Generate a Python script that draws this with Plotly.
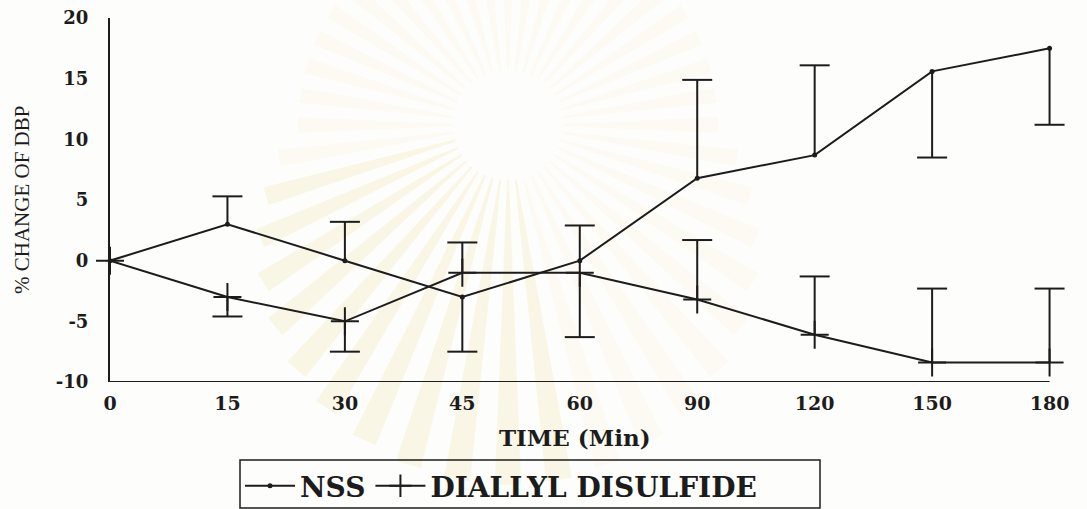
import math
import plotly.graph_objects as go

# Sampling times (min) and group statistics (% change of DBP)
time_labels = ["0", "15", "30", "45", "60", "90", "120", "150", "180"]
nss_mean = [0, 3.0, 0, -3.0, 0, 6.8, 8.7, 15.6, 17.5]
nss_err_up = [0, 2.3, 3.2, 0, 2.9, 8.1, 7.4, 0, 0]
nss_err_down = [0, 0, 0, 4.5, 0, 0, 0, 7.1, 6.3]
dds_mean = [0, -3.0, -5.0, -1.0, -1.0, -3.2, -6.1, -8.4, -8.4]
dds_err_up = [0, 0, 0, 2.5, 0, 4.9, 4.8, 6.1, 6.1]
dds_err_down = [0, 1.6, 2.5, 0, 5.3, 0, 0, 0, 0]
y_ticks = [-10, -5, 0, 5, 10, 15, 20]
y_ticktext = ["-10", "-5", "0", "5", "10", "15", "20"]

INK = "#1c1c1c"
SERIF = "DejaVu Serif"

# figure geometry (px)
W, H = 1087, 509
ML, MR, MT, MB = 110, 21, 18, 127
PW, PH = W - ML - MR, H - MT - MB
X_EXTRA = 0.14  # room to the right of the last time point for its whisker cap

xpos = list(range(len(time_labels)))
x_max = xpos[-1] + X_EXTRA
unit = PW / x_max
CAP = 15 / unit  # half cap width in x units


def one_sided_bars(means, ups, downs):
    """Vertical whisker from the mean to mean+up / mean-down, capped at the far end."""
    xs, ys = [], []
    for x, m, u, d in zip(xpos, means, ups, downs):
        for end in ([m + u] if u else []) + ([m - d] if d else []):
            xs += [x, x, None, x - CAP, x + CAP, None]
            ys += [m, end, None, end, end, None]
    return xs, ys


def px2paper(px, py):
    return (px - ML) / PW, (MT + PH - py) / PH


fig = go.Figure()

# faint sunburst emblem behind the plot
shapes = []
cx, cy = 508, 125
n_rays = 44
for k in range(n_rays):
    a = 2 * math.pi * k / n_rays
    half = math.radians(2.1)
    r0 = 55
    r1 = 210 + 150 * max(0.0, math.sin(a))  # longer rays toward the bottom
    pts = [
        px2paper(cx + r0 * math.cos(a - half * 0.5), cy + r0 * math.sin(a - half * 0.5)),
        px2paper(cx + r1 * math.cos(a - half), cy + r1 * math.sin(a - half)),
        px2paper(cx + r1 * math.cos(a + half), cy + r1 * math.sin(a + half)),
        px2paper(cx + r0 * math.cos(a + half * 0.5), cy + r0 * math.sin(a + half * 0.5)),
    ]
    path = "M " + " L ".join(f"{p[0]:.4f},{p[1]:.4f}" for p in pts) + " Z"
    lower_left = math.sin(a) > 0.25 and math.cos(a) < 0.2
    col = "rgba(238,205,115,0.15)" if lower_left else "rgba(242,225,170,0.10)"
    shapes.append(dict(type="path", path=path, xref="paper", yref="paper",
                       fillcolor=col, line=dict(width=0), layer="below"))

# x axis line running from the first to the last time point
shapes.append(dict(type="line", xref="x", yref="y",
                   x0=xpos[0], x1=xpos[-1], y0=y_ticks[0], y1=y_ticks[0],
                   line=dict(color=INK, width=2), layer="above"))

# frame around the legend
bx0, by0 = px2paper(240, 508)
bx1, by1 = px2paper(820, 460)
shapes.append(dict(type="rect", xref="paper", yref="paper",
                   x0=bx0, y0=by0, x1=bx1, y1=by1,
                   line=dict(color=INK, width=1.5), fillcolor="rgba(0,0,0,0)"))

# error whiskers
for means, ups, downs in ((nss_mean, nss_err_up, nss_err_down),
                          (dds_mean, dds_err_up, dds_err_down)):
    ex, ey = one_sided_bars(means, ups, downs)
    fig.add_trace(go.Scatter(x=ex, y=ey, mode="lines", showlegend=False,
                             hoverinfo="skip", cliponaxis=False,
                             line=dict(color=INK, width=2)))

fig.add_trace(go.Scatter(
    x=xpos, y=nss_mean, name="NSS", mode="lines+markers", cliponaxis=False,
    line=dict(color=INK, width=2),
    marker=dict(symbol="circle", size=5, color=INK),
))
fig.add_trace(go.Scatter(
    x=xpos, y=dds_mean, name="DIALLYL DISULFIDE", mode="lines+markers",
    cliponaxis=False,
    line=dict(color=INK, width=2),
    marker=dict(symbol="cross-thin", size=20, line=dict(color=INK, width=2)),
))

lx, ly = px2paper(240, 461)
tx, ty = px2paper(575, 438)
ax_, ay_ = px2paper(22, 200)

fig.update_layout(
    width=W, height=H,
    margin=dict(l=ML, r=MR, t=MT, b=MB, pad=0, autoexpand=False),
    paper_bgcolor="#fdfdfb",
    plot_bgcolor="rgba(0,0,0,0)",
    font=dict(family=SERIF, color=INK),
    shapes=shapes,
    showlegend=True,
    legend=dict(
        orientation="h", x=lx, y=ly, xanchor="left", yanchor="top",
        borderwidth=0, bgcolor="rgba(255,255,255,0)",
        font=dict(family=SERIF, size=28, color=INK, weight="bold"),
        itemwidth=50,
    ),
    annotations=[
        dict(text="% CHANGE OF DBP", textangle=-90, showarrow=False,
             xref="paper", yref="paper", x=ax_, y=ay_,
             xanchor="center", yanchor="middle",
             font=dict(family="Liberation Serif", size=21, color=INK)),
        dict(text="TIME (Min)", showarrow=False,
             xref="paper", yref="paper", x=tx, y=ty,
             xanchor="center", yanchor="middle",
             font=dict(family=SERIF, size=23, color=INK, weight="bold")),
    ],
)

fig.update_xaxes(
    range=[0, x_max], tickmode="array", tickvals=xpos,
    ticktext=time_labels, showgrid=False, zeroline=False,
    showline=False, ticks="",
    ticklabelstandoff=8,
    tickfont=dict(family=SERIF, size=19, color=INK, weight="bold"),
)
fig.update_yaxes(
    range=[y_ticks[0], y_ticks[-1]], tickmode="array", tickvals=y_ticks,
    ticktext=y_ticktext, showgrid=False, zeroline=False,
    showline=True, linecolor=INK, linewidth=2, ticks="",
    ticklabelstandoff=16,
    tickfont=dict(family=SERIF, size=18, color=INK, weight="bold"),
)

fig.write_html("out.html")
